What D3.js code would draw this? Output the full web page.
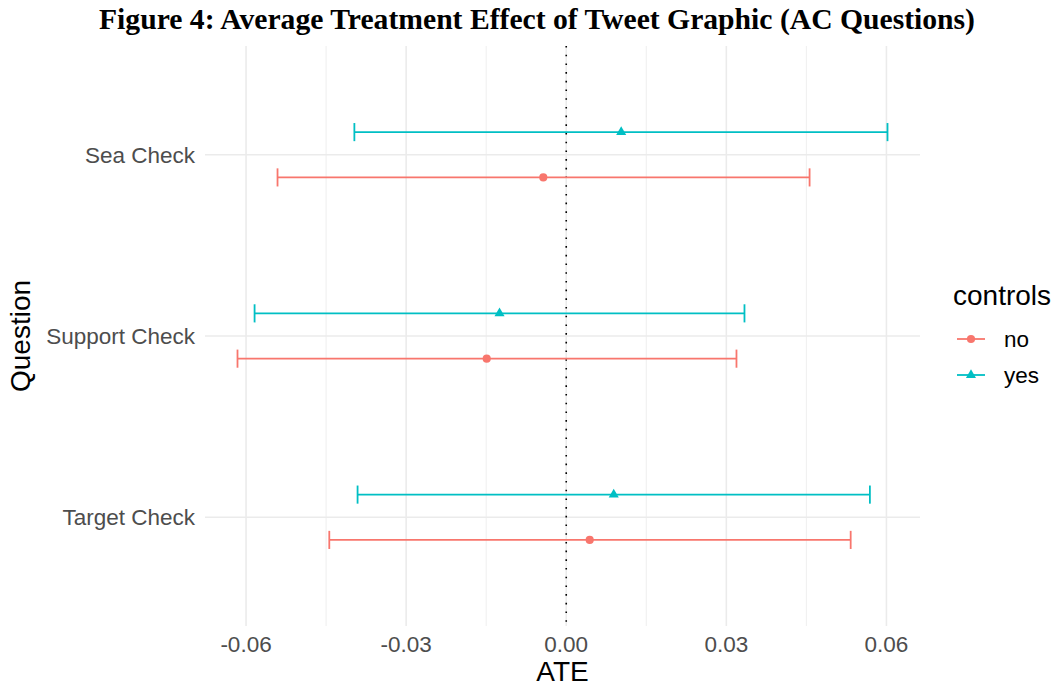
<!DOCTYPE html>
<html lang="en">
<head>
    <meta charset="UTF-8">
    <title>Figure 4: Average Treatment Effect of Tweet Graphic (AC Questions)</title>
    <style>
        body { margin: 0; background: #fff; }
        svg text { font-family: "Liberation Sans", Arial, Helvetica, sans-serif; }
    </style>
</head>
<body>
    <div id="chart"></div>

    <script src="https://cdn.jsdelivr.net/npm/d3@7"></script>
    <script>
        // data
        var questions = ["Sea Check", "Support Check", "Target Check"];
        var groups = ["no", "yes"];
        var ateNo  = [-0.0043, -0.0149, 0.0044];
        var lowNo  = [-0.0541, -0.0616, -0.0444];
        var highNo = [0.0456, 0.0319, 0.0533];
        var ateYes  = [0.0103, -0.0125, 0.0089];
        var lowYes  = [-0.0397, -0.0584, -0.0391];
        var highYes = [0.0602, 0.0334, 0.0569];
        var xTicks = [-0.06, -0.03, 0.00, 0.03, 0.06];
        var xMinor = [-0.045, -0.015, 0.015, 0.045];

        var rows = [];
        questions.forEach(function (q, i) {
            rows.push({ q: q, g: "no", ate: ateNo[i], lo: lowNo[i], hi: highNo[i] });
            rows.push({ q: q, g: "yes", ate: ateYes[i], lo: lowYes[i], hi: highYes[i] });
        });

        var width = 1057, height = 687;
        var panel = { left: 205, right: 920, top: 46, bottom: 626 };

        var svg = d3.select("#chart").append("svg")
            .attr("width", width)
            .attr("height", height);

        // x scale with ggplot-like 5% expansion
        var lo = d3.min(rows, d => d.lo), hi = d3.max(rows, d => d.hi);
        var pad = (hi - lo) * 0.05;
        var x = d3.scaleLinear()
            .domain([lo - pad, hi + pad])
            .range([panel.left, panel.right]);

        var y = d3.scalePoint()
            .domain(questions)
            .range([panel.top, panel.bottom])
            .padding(0.6);

        var dodge = d3.scalePoint()
            .domain(["yes", "no"])
            .range([-0.125 * y.step(), 0.125 * y.step()]);

        var color = d3.scaleOrdinal().domain(groups).range(["#F8766D", "#00BFC4"]);
        var capHalf = 0.05 * y.step();
        var fmt = d3.formatLocale({ decimal: ".", thousands: ",", grouping: [3], currency: ["", ""], minus: "-" }).format(".2f");

        // grid
        var grid = svg.append("g");
        grid.selectAll(".minor").data(xMinor).join("line")
            .attr("x1", d => x(d)).attr("x2", d => x(d))
            .attr("y1", panel.top).attr("y2", panel.bottom)
            .attr("stroke", "#EBEBEB").attr("stroke-width", 0.8);
        grid.selectAll(".major").data(xTicks).join("line")
            .attr("x1", d => x(d)).attr("x2", d => x(d))
            .attr("y1", panel.top).attr("y2", panel.bottom)
            .attr("stroke", "#EBEBEB").attr("stroke-width", 1.6);
        grid.selectAll(".hmajor").data(questions).join("line")
            .attr("x1", panel.left).attr("x2", panel.right)
            .attr("y1", d => y(d)).attr("y2", d => y(d))
            .attr("stroke", "#EBEBEB").attr("stroke-width", 1.6);

        // reference line at zero
        svg.append("line")
            .attr("x1", x(0)).attr("x2", x(0))
            .attr("y1", panel.top).attr("y2", panel.bottom)
            .attr("stroke", "#000").attr("stroke-width", 1.6)
            .attr("stroke-dasharray", "1.6 7.1");

        // error bars
        var bars = svg.append("g").selectAll("g").data(rows).join("g")
            .attr("stroke", d => color(d.g))
            .attr("stroke-width", 1.8)
            .attr("fill", "none");
        bars.append("line")
            .attr("x1", d => x(d.lo)).attr("x2", d => x(d.hi))
            .attr("y1", d => y(d.q) + dodge(d.g)).attr("y2", d => y(d.q) + dodge(d.g));
        bars.append("line")
            .attr("x1", d => x(d.lo)).attr("x2", d => x(d.lo))
            .attr("y1", d => y(d.q) + dodge(d.g) - capHalf).attr("y2", d => y(d.q) + dodge(d.g) + capHalf);
        bars.append("line")
            .attr("x1", d => x(d.hi)).attr("x2", d => x(d.hi))
            .attr("y1", d => y(d.q) + dodge(d.g) - capHalf).attr("y2", d => y(d.q) + dodge(d.g) + capHalf);

        var shape = d3.scaleOrdinal().domain(groups)
            .range([d3.symbol(d3.symbolCircle, 52)(), d3.symbol(d3.symbolTriangle, 44)()]);

        svg.append("g").selectAll("path").data(rows).join("path")
            .attr("d", d => shape(d.g))
            .attr("transform", d => "translate(" + x(d.ate) + "," + (y(d.q) + dodge(d.g)) + ")")
            .attr("fill", d => color(d.g));

        // axes text
        svg.append("g").selectAll("text").data(xTicks).join("text")
            .attr("x", d => x(d)).attr("y", 652)
            .attr("text-anchor", "middle")
            .attr("font-size", 22.5).attr("fill", "#4D4D4D")
            .text(d => fmt(d));

        svg.append("g").selectAll("text").data(questions).join("text")
            .attr("x", 195).attr("y", d => y(d))
            .attr("dy", "0.36em")
            .attr("text-anchor", "end")
            .attr("font-size", 22.5).attr("fill", "#4D4D4D")
            .text(d => d);

        svg.append("text")
            .attr("x", (panel.left + panel.right) / 2).attr("y", 681)
            .attr("text-anchor", "middle").attr("font-size", 28)
            .text("ATE");

        svg.append("text")
            .attr("transform", "translate(30," + (panel.top + panel.bottom) / 2 + ") rotate(-90)")
            .attr("text-anchor", "middle").attr("font-size", 28)
            .text("Question");

        // legend
        var legend = svg.append("g");
        legend.append("text")
            .attr("x", 953).attr("y", 305)
            .attr("font-size", 28)
            .text("controls");
        var items = legend.selectAll(".item").data(groups).join("g")
            .attr("transform", (d, i) => "translate(0," + (339 + i * 36) + ")");
        items.append("line")
            .attr("x1", 957).attr("x2", 985)
            .attr("stroke", d => color(d)).attr("stroke-width", 1.8);
        items.append("path")
            .attr("d", d => shape(d))
            .attr("transform", "translate(971,0)")
            .attr("fill", d => color(d));
        items.append("text")
            .attr("x", 1004).attr("dy", "0.36em")
            .attr("font-size", 22.5)
            .text(d => d);

        // title
        svg.append("text")
            .attr("x", 537).attr("y", 29)
            .attr("text-anchor", "middle")
            .style("font-family", "'Liberation Serif', 'Times New Roman', serif")
            .attr("font-weight", "bold")
            .attr("font-size", 30)
            .attr("textLength", 876)
            .attr("lengthAdjust", "spacingAndGlyphs")
            .text("Figure 4: Average Treatment Effect of Tweet Graphic (AC Questions)");
    </script>
</body>
</html>
